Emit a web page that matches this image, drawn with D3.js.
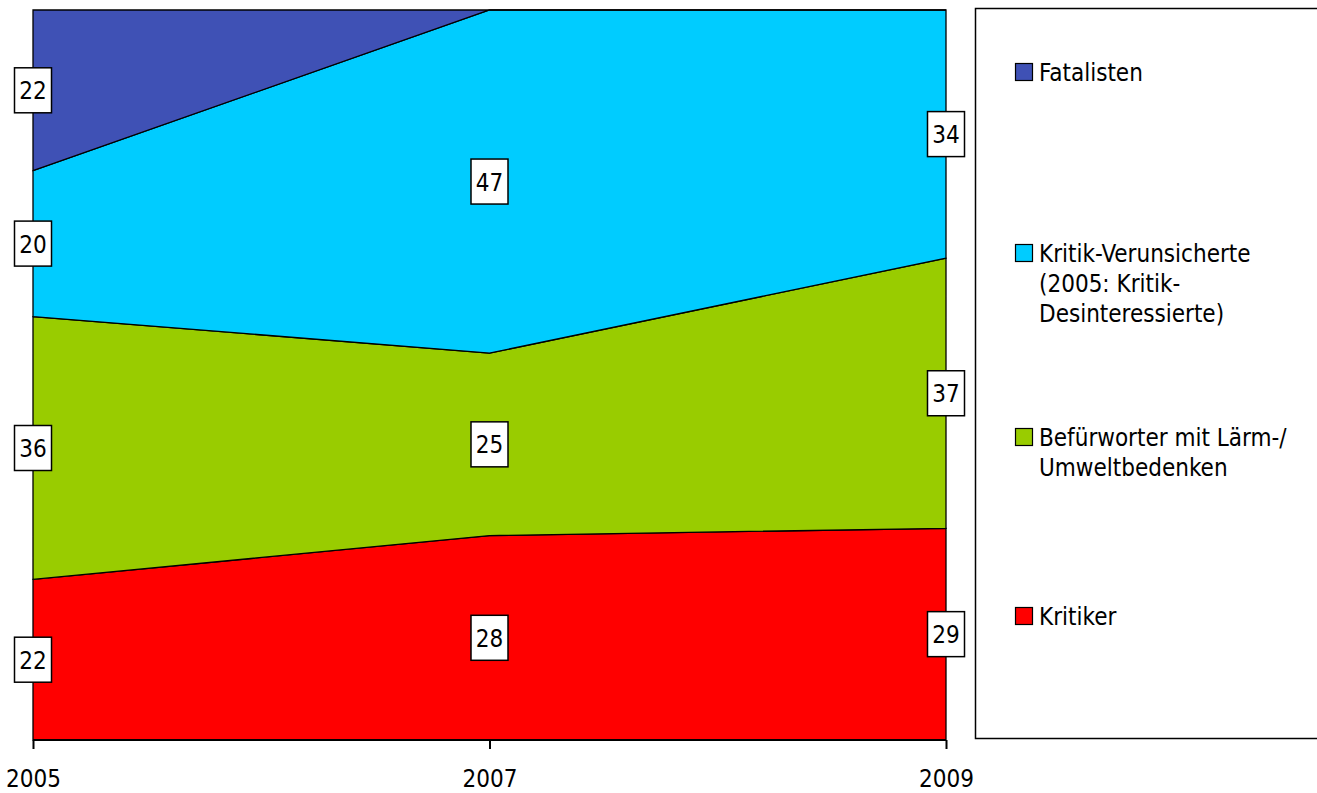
<!DOCTYPE html>
<html>
<head>
<meta charset="utf-8">
<script src="https://cdn.jsdelivr.net/npm/d3@7"></script>
<style>
html, body { margin: 0; padding: 0; background: #fff; }
svg { display: block; }
text { font-family: "DejaVu Sans Condensed", "DejaVu Sans", sans-serif; font-stretch: condensed; fill: #000; }
</style>
</head>
<body>
<svg id="chart" width="1317" height="793"></svg>
<script>
const years = ["2005", "2007", "2009"];
const seriesNames = ["Kritiker", "Befürworter mit Lärm-/Umweltbedenken", "Kritik-Verunsicherte (2005: Kritik-Desinteressierte)", "Fatalisten"];
const kritiker = [22, 28, 29];
const befuerworter = [36, 25, 37];
const verunsicherte = [20, 47, 34];
const fatalisten = [22, 0, 0];
const colors = ["#ff0000", "#99cc00", "#00ccff", "#3f51b5"];
const legendLines = [
  ["Kritiker"],
  ["Befürworter mit Lärm-/", "Umweltbedenken"],
  ["Kritik-Verunsicherte", "(2005: Kritik-", "Desinteressierte)"],
  ["Fatalisten"]
];

(function () {
const svg = d3.select("#chart");
const pLeft = 33, pRight = 946, pTop = 10, pBottom = 740;
const fs = 24;

const x = d3.scalePoint().domain(years).range([pLeft, pRight]);
const y = d3.scaleLinear().domain([0, 100]).range([pBottom, pTop]);

const values = [kritiker, befuerworter, verunsicherte, fatalisten];
const rows = years.map((yr, i) => {
  const r = { year: yr };
  seriesNames.forEach((s, k) => r[s] = values[k][i]);
  return r;
});
const layers = d3.stack().keys(seriesNames)(rows);

const area = d3.area()
  .x(d => x(d.data.year))
  .y0(d => y(d[0]))
  .y1(d => y(d[1]));

svg.append("g").selectAll("path")
  .data(layers)
  .join("path")
  .attr("d", area)
  .attr("fill", (d, i) => colors[i])
  .attr("stroke", "#000")
  .attr("stroke-width", 1.3)
  .attr("stroke-linejoin", "miter");

const axis = svg.append("g").attr("transform", `translate(0,${pBottom})`)
  .call(d3.axisBottom(x).tickSize(9).tickPadding(22));
axis.select(".domain").attr("stroke", "#000").attr("stroke-width", 2)
  .attr("d", `M${pLeft},0H${pRight}`);
axis.selectAll(".tick line").attr("stroke", "#000").attr("stroke-width", 2);
axis.selectAll(".tick text").attr("font-size", fs).attr("dy", "0.66em")
  .style("font-family", '"DejaVu Sans Condensed", "DejaVu Sans", sans-serif');

const labels = [];
layers.forEach(layer => {
  layer.forEach(d => {
    const v = d[1] - d[0];
    if (v > 0) labels.push({ x: x(d.data.year), y: y((d[0] + d[1]) / 2), v: v });
  });
});
const lg = svg.append("g").selectAll("g").data(labels).join("g")
  .attr("transform", d => `translate(${d.x},${d.y})`);
lg.append("rect")
  .attr("x", -18.5).attr("y", -22.5).attr("width", 37).attr("height", 45)
  .attr("fill", "#fff").attr("stroke", "#000").attr("stroke-width", 1.5);
lg.append("text")
  .attr("text-anchor", "middle").attr("dy", "0.38em")
  .attr("font-size", fs)
  .text(d => d.v);

svg.append("rect")
  .attr("x", 975.5).attr("y", 8.5).attr("width", 360).attr("height", 730)
  .attr("fill", "#fff").attr("stroke", "#000").attr("stroke-width", 1.5);

const legendY = [625, 446, 262, 81];
const leg = svg.append("g").selectAll("g").data(seriesNames).join("g")
  .attr("transform", (d, i) => `translate(1015,${legendY[i]})`);
leg.append("rect")
  .attr("x", 0.5).attr("y", -17.5).attr("width", 17).attr("height", 17)
  .attr("fill", (d, i) => colors[i]).attr("stroke", "#000").attr("stroke-width", 1.2);
leg.append("text")
  .attr("x", 24).attr("font-size", fs)
  .each(function (d, i) {
    d3.select(this).selectAll("tspan").data(legendLines[i]).join("tspan")
      .attr("x", 24).attr("y", (t, j) => j * 30)
      .text(t => t);
  });
})();
</script>
</body>
</html>
